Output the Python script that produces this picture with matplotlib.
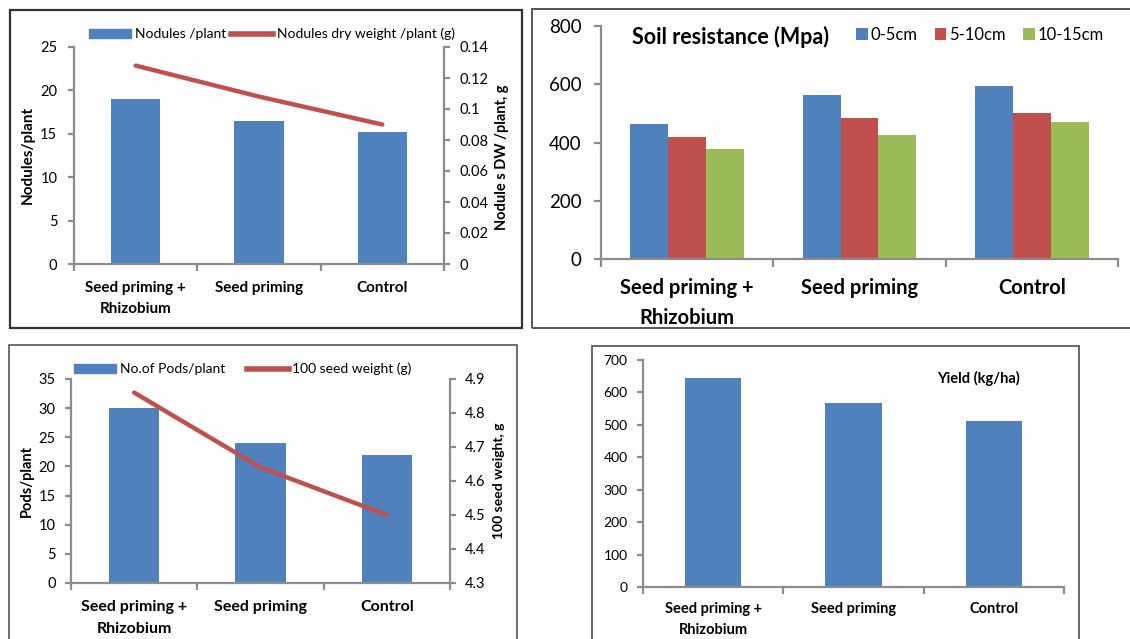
import matplotlib
matplotlib.use("Agg")
import matplotlib.pyplot as plt
from matplotlib.patches import Rectangle, Patch
from matplotlib.lines import Line2D
from matplotlib.ticker import FuncFormatter

plt.rcParams['font.family'] = ['Lato', 'DejaVu Sans']

# ---- data ----
categories = ['Seed priming +\nRhizobium', 'Seed priming', 'Control']

nodules_per_plant = [19.0, 16.5, 15.2]
nodules_dry_weight = [0.128, 0.108, 0.090]

soil_0_5 = [464, 564, 593]
soil_5_10 = [419, 485, 501]
soil_10_15 = [378, 426, 471]
depth_labels = ['0-5cm', '5-10cm', '10-15cm']

pods_per_plant = [30, 24, 22]
seed_weight_100 = [4.86, 4.64, 4.50]

yield_kg_ha = [643, 567, 513]

# ---- styling ----
BLUE = '#4F81BD'
RED = '#C0504D'
GREEN = '#9BBB59'
AXGRAY = '#8C8C8C'

W, H = 1130, 639
fig = plt.figure(figsize=(W / 100, H / 100), dpi=100)


def fbox(l, t, r, b):
    return [l / W, 1 - b / H, (r - l) / W, (b - t) / H]


def frame(l, t, r, b, color, lw):
    fig.add_artist(Rectangle((l / W, 1 - b / H), (r - l) / W, (b - t) / H,
                             transform=fig.transFigure, fill=False,
                             ec=color, lw=lw, zorder=0))


def style_axes(ax, tick_fs, cat_fs, ypad, xpad, ticklen=4, linespacing=1.4):
    for s in ('top', 'right'):
        ax.spines[s].set_visible(False)
    for s in ('left', 'bottom'):
        ax.spines[s].set_color(AXGRAY)
        ax.spines[s].set_linewidth(1.6)
    ax.tick_params(axis='y', direction='out', length=ticklen, width=1.6,
                   color=AXGRAY, labelsize=tick_fs, pad=ypad)
    ax.set_xlim(-0.5, len(categories) - 0.5)
    ax.set_xticks(range(len(categories)))
    ax.set_xticklabels(categories, fontsize=cat_fs, fontweight='bold',
                       linespacing=linespacing)
    ax.set_xticks([i - 0.5 for i in range(len(categories) + 1)], minor=True)
    ax.tick_params(axis='x', which='major', length=0, pad=xpad)
    ax.tick_params(axis='x', which='minor', direction='out', length=ticklen + 1,
                   width=1.6, color=AXGRAY)


def style_right(ax2, tick_fs, pad, ticklen=4):
    for s in ('top', 'left', 'bottom'):
        ax2.spines[s].set_visible(False)
    ax2.spines['right'].set_color(AXGRAY)
    ax2.spines['right'].set_linewidth(1.6)
    ax2.tick_params(axis='y', direction='out', length=ticklen, width=1.6,
                    color=AXGRAY, labelsize=tick_fs, pad=pad)
    ax2.yaxis.set_major_formatter(FuncFormatter(lambda v, p: f'{v:g}'))


x = list(range(len(categories)))

# ---- panel 1: nodules ----
frame(10, 10, 522, 328, '#333333', 1.6)
ax1 = fig.add_axes(fbox(74, 47, 444, 264))
ax1.bar(x, nodules_per_plant, width=0.4, color=BLUE, zorder=2)
ax1.set_ylim(0, 25)
ax1.set_yticks(range(0, 26, 5))
style_axes(ax1, 10.5, 11, 8, 12, linespacing=1.65)
ax1b = ax1.twinx()
ax1b.plot(x, nodules_dry_weight, color=RED, lw=3.2, solid_capstyle='round')
ax1b.set_ylim(0, 0.14)
ax1b.set_yticks([0, 0.02, 0.04, 0.06, 0.08, 0.1, 0.12, 0.14])
style_right(ax1b, 10.5, 7)
fig.text(28 / W, 1 - 155 / H, 'Nodules/plant', rotation=90, ha='center',
         va='center', fontsize=11, fontweight='bold')
fig.text(502 / W, 1 - 157 / H, 'Nodule s DW /plant, g', rotation=90,
         ha='center', va='center', fontsize=10.5, fontweight='bold')
fig.legend(handles=[Patch(color=BLUE, label='Nodules /plant'),
                    Line2D([], [], color=RED, lw=4, label='Nodules dry weight /plant (g)')],
           loc='center', bbox_to_anchor=(272 / W, 1 - 34 / H), ncol=2,
           frameon=False, fontsize=10, handlelength=3.0, handleheight=0.6,
           handletextpad=0.25, columnspacing=0.4, borderpad=0, borderaxespad=0)

# ---- panel 2: soil resistance ----
frame(532, 9, 1140, 328, '#555555', 1.4)
ax2 = fig.add_axes(fbox(601, 26, 1118, 259))
bw = 0.22
ax2.bar([i - bw for i in x], soil_0_5, width=bw, color=BLUE, label=depth_labels[0], zorder=2)
ax2.bar(x, soil_5_10, width=bw, color=RED, label=depth_labels[1], zorder=2)
ax2.bar([i + bw for i in x], soil_10_15, width=bw, color=GREEN, label=depth_labels[2], zorder=2)
ax2.set_ylim(0, 800)
ax2.set_yticks(range(0, 801, 200))
style_axes(ax2, 13.5, 14.5, 9, 14, ticklen=5, linespacing=1.6)
fig.text(632 / W, 1 - 37 / H, 'Soil resistance (Mpa)', ha='left', va='center',
         fontsize=15.5, fontweight='bold')
fig.legend(handles=ax2.get_legend_handles_labels()[0],
           loc='center', bbox_to_anchor=(980 / W, 1 - 34.5 / H), ncol=3,
           frameon=False, fontsize=12, handlelength=0.7, handleheight=0.7,
           handletextpad=0.2, columnspacing=1.0, borderpad=0, borderaxespad=0)

# ---- panel 3: pods and seed weight ----
frame(8.5, 345, 517, 650, '#555555', 1.2)
ax3 = fig.add_axes(fbox(71, 379, 450, 583))
ax3.bar(x, pods_per_plant, width=0.4, color=BLUE, zorder=2)
ax3.set_ylim(0, 35)
ax3.set_yticks(range(0, 36, 5))
style_axes(ax3, 10.5, 11.5, 7, 12, linespacing=1.75)
ax3b = ax3.twinx()
ax3b.plot(x, seed_weight_100, color=RED, lw=3.2, solid_capstyle='round')
ax3b.set_ylim(4.3, 4.9)
ax3b.set_yticks([4.3, 4.4, 4.5, 4.6, 4.7, 4.8, 4.9])
style_right(ax3b, 10.5, 7)
fig.text(27 / W, 1 - 481 / H, 'Pods/plant', rotation=90, ha='center',
         va='center', fontsize=10.5, fontweight='bold')
fig.text(499 / W, 1 - 481 / H, '100 seed weight, g', rotation=90,
         ha='center', va='center', fontsize=10, fontweight='bold')
fig.legend(handles=[Patch(color=BLUE, label='No.of Pods/plant'),
                    Line2D([], [], color=RED, lw=4, label='100 seed weight (g)')],
           loc='center', bbox_to_anchor=(243 / W, 1 - 369 / H), ncol=2,
           frameon=False, fontsize=10, handlelength=3.0, handleheight=0.6,
           handletextpad=0.25, columnspacing=1.6, borderpad=0, borderaxespad=0)

# ---- panel 4: yield ----
frame(592, 346, 1079, 650, '#666666', 1.4)
ax4 = fig.add_axes(fbox(643, 360, 1064, 587))
ax4.bar(x, yield_kg_ha, width=0.4, color=BLUE, zorder=2)
ax4.set_ylim(0, 700)
ax4.set_yticks(range(0, 701, 100))
style_axes(ax4, 10, 10.5, 7, 11, linespacing=1.6)
fig.text(937 / W, 1 - 378 / H, 'Yield (kg/ha)', ha='left', va='center',
         fontsize=10.5, fontweight='bold')

fig.savefig('out.png', dpi=100)
